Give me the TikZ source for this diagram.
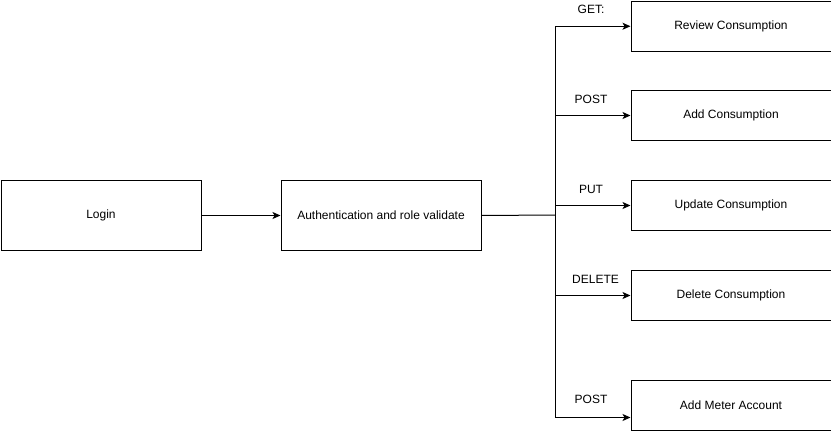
\documentclass[tikz,border=0pt]{standalone}
\usepackage{fontspec}
\setmainfont{Liberation Sans}
\usetikzlibrary{arrows.meta}
\begin{document}
\begin{tikzpicture}[x=1pt,y=-1pt,
  font=\fontsize{12}{14}\selectfont,
  box/.style={draw=black,line width=1pt,minimum width=200pt,inner sep=0pt,anchor=north west},
  tallbox/.style={box,minimum height=70pt},
  shortbox/.style={box,minimum height=50pt},
  link/.style={draw=black,line width=1pt},
  arr/.style={link,-{Stealth[length=8pt,width=7pt,inset=2pt]}},
  verb/.style={inner sep=0pt}]
\useasboundingbox (0,0) rectangle (831,431);
% left side: login and auth
\node[tallbox] (login) at (0.5,180) {Login};
\node[tallbox] (auth) at (280.5,180) {Authentication and role validate};
% right side: one box per endpoint
\node[shortbox] (review) at (630.5,0.5) {Review Consumption};
\node[shortbox] (add) at (630.5,90) {Add Consumption};
\node[shortbox] (update) at (630.5,180) {Update Consumption};
\node[shortbox] (delete) at (630.5,270) {Delete Consumption};
\node[shortbox] (meter) at (630.5,380) {Add Meter Account};
% junction of the fan-out bus
\coordinate (j) at (555.5,215);
\draw[arr] (login) -- (auth);
\draw[link] (auth.east) -- (j);
\draw[arr] (j) |- ([yshift=-0.25pt]review.west);
\draw[arr] (j) |- (add.west);
\draw[arr] (j) |- (update.west);
\draw[arr] (j) |- (delete.west);
\draw[arr] (j) |- ([yshift=-12pt]meter.west);
% request methods
\node[verb] (lget) at (591,9) {GET:};
\node[verb] (lpost) at (591,99.5) {POST};
\node[verb] (lput) at (591,189.5) {PUT};
\node[verb] (ldel) at (595.5,279.5) {DELETE};
\node[verb] (lpost2) at (591,399.5) {POST};
\end{tikzpicture}
\end{document}
